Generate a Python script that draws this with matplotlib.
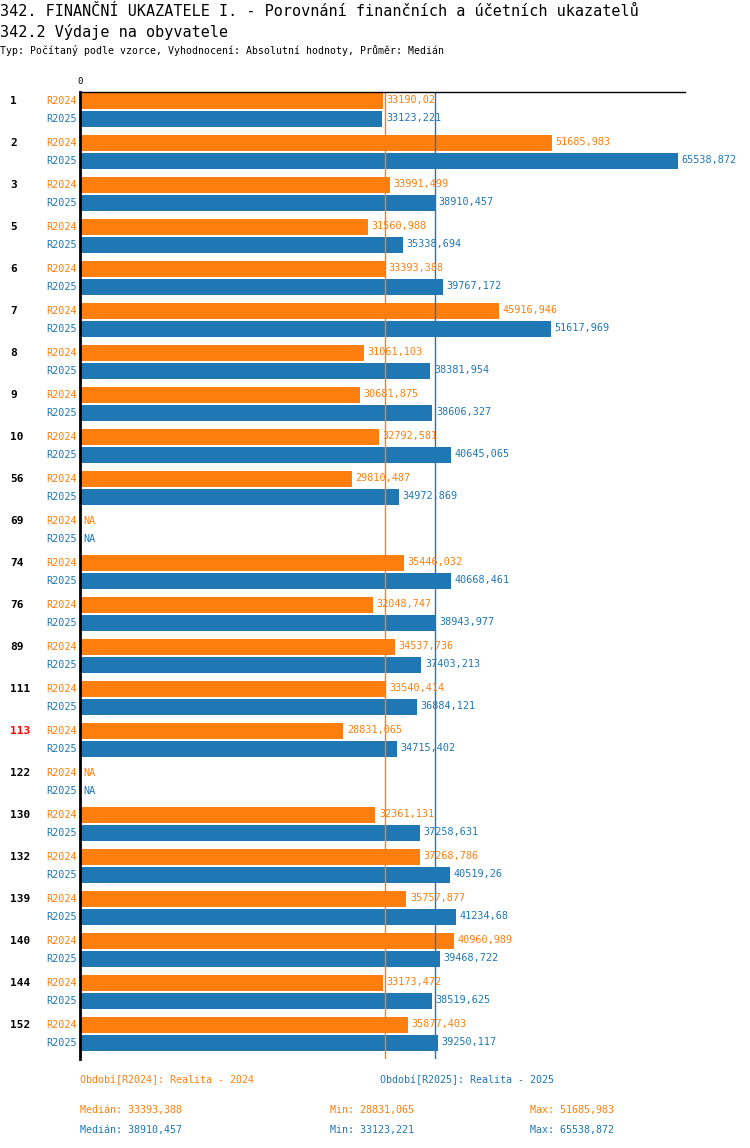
import numpy as np
import matplotlib.pyplot as plt

# data
groups = ['1', '2', '3', '5', '6', '7', '8', '9', '10', '56', '69', '74', '76',
          '89', '111', '113', '122', '130', '132', '139', '140', '144', '152']
r2024 = [33190.02, 51685.983, 33991.499, 31560.988, 33393.388, 45916.946,
         31061.103, 30681.875, 32792.581, 29810.487, np.nan, 35446.032,
         32048.747, 34537.736, 33540.414, 28831.065, np.nan, 32361.131,
         37268.786, 35757.877, 40960.989, 33173.472, 35877.403]
r2025 = [33123.221, 65538.872, 38910.457, 35338.694, 39767.172, 51617.969,
         38381.954, 38606.327, 40645.065, 34972.869, np.nan, 40668.461,
         38943.977, 37403.213, 36884.121, 34715.402, np.nan, 37258.631,
         40519.26, 41234.68, 39468.722, 38519.625, 39250.117]
highlight = '113'

c24 = '#ff7f0e'
c25 = '#1f77b4'
W, H = 750, 1148
plt.rcParams['font.family'] = ['DejaVu Sans Mono']

def fy(px):
    return 1 - px / H

fig = plt.figure(figsize=(W / 100, H / 100), dpi=100)
ax = fig.add_axes([80 / W, fy(1059), (685 - 80) / W, (1059 - 92) / H])

# layout in pixel-like units: 42 per group, bars 16 high
y24 = np.arange(len(groups)) * 42 + 8.5
y25 = y24 + 18
v24 = np.array(r2024)
v25 = np.array(r2025)
ax.barh(y24, np.nan_to_num(v24), height=16, color=c24)
ax.barh(y25, np.nan_to_num(v25), height=16, color=c25)

med24 = np.nanmedian(v24)
med25 = np.nanmedian(v25)
ax.axvline(med24, color=c24, lw=1)
ax.axvline(med25, color=c25, lw=1)

def fmt(v):
    return 'NA' if np.isnan(v) else str(v).replace('.', ',')

for i, g in enumerate(groups):
    for y, v, c, name in ((y24[i], v24[i], c24, 'R2024'), (y25[i], v25[i], c25, 'R2025')):
        ax.annotate(fmt(v), (0 if np.isnan(v) else v, y), xytext=(2.5, 0),
                    textcoords='offset points', va='center', ha='left',
                    color=c, fontsize=7.3)
        ax.annotate(name, (0, y), xytext=(-2.5, 0), textcoords='offset points',
                    va='center', ha='right', color=c, fontsize=7.3)
    ax.annotate(g, (0, y24[i] + 0.5), xytext=(-50.4, 0), textcoords='offset points',
                va='center', ha='left', fontsize=8, fontweight='bold',
                color='red' if g == highlight else 'black')

ax.set_xlim(0, 66265)
ax.set_ylim(967, 0)
ax.set_xticks([])
ax.set_yticks([])
for s in ('right', 'bottom'):
    ax.spines[s].set_visible(False)
ax.spines['left'].set_linewidth(2)
ax.spines['top'].set_linewidth(1)
ax.text(0, 1.006, '0', transform=ax.get_xaxis_transform(), ha='center',
        va='bottom', fontsize=6.5)

fig.text(0, fy(15.5), '342. FINANČNÍ UKAZATELE I. - Porovnání finančních a účetních ukazatelů',
         fontsize=10.9, va='baseline')
fig.text(0, fy(37), '342.2 Výdaje na obyvatele', fontsize=10.9, va='baseline')
fig.text(0, fy(54.5), 'Typ: Počítaný podle vzorce, Vyhodnocení: Absolutní hodnoty, Průměr: Medián',
         fontsize=7.1, va='baseline')

fig.text(80 / W, fy(1080), 'Období[R2024]: Realita - 2024', color=c24, fontsize=7.2, va='center')
fig.text(380 / W, fy(1080), 'Období[R2025]: Realita - 2025', color=c25, fontsize=7.2, va='center')
for yy, v, c in ((1110, v24, c24), (1130, v25, c25)):
    fig.text(80 / W, fy(yy), 'Medián: ' + fmt(round(np.nanmedian(v), 3)), color=c, fontsize=7.2, va='center')
    fig.text(330 / W, fy(yy), 'Min: ' + fmt(np.nanmin(v)), color=c, fontsize=7.2, va='center')
    fig.text(530 / W, fy(yy), 'Max: ' + fmt(np.nanmax(v)), color=c, fontsize=7.2, va='center')

fig.savefig('out.png', dpi=100)
